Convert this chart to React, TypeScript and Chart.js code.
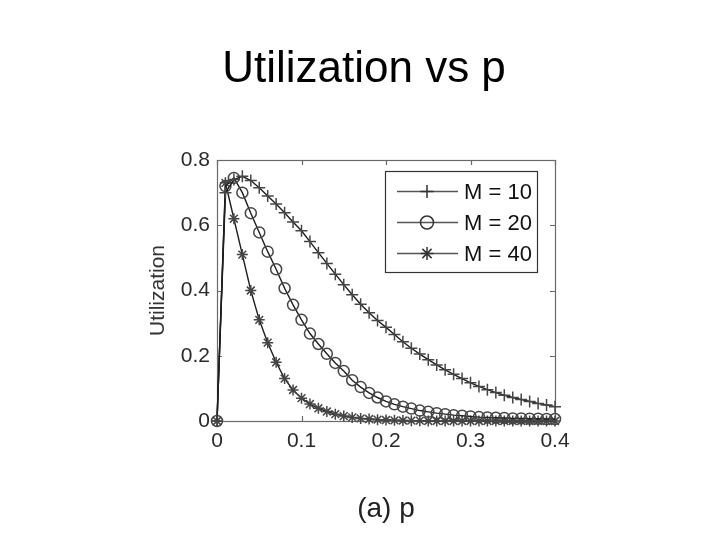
import React, { useEffect, useRef } from 'react';
import { Chart, registerables } from 'chart.js';
import { drawPoint } from 'chart.js/helpers';

Chart.register(...registerables);

const chartTitle = 'Utilization vs p';
const xLabel = '(a) p';
const yLabel = 'Utilization';
const seriesLabels = ['M = 10', 'M = 20', 'M = 40'];
const seriesStyles = ['cross', 'circle', 'star'];

const pValues = [
  0, 0.01, 0.02, 0.03, 0.04, 0.05, 0.06, 0.07, 0.08, 0.09,
  0.1, 0.11, 0.12, 0.13, 0.14, 0.15, 0.16, 0.17, 0.18, 0.19,
  0.2, 0.21, 0.22, 0.23, 0.24, 0.25, 0.26, 0.27, 0.28, 0.29,
  0.3, 0.31, 0.32, 0.33, 0.34, 0.35, 0.36, 0.37, 0.38, 0.39, 0.4,
];

const util10 = [
  0, 0.7, 0.74, 0.75, 0.737, 0.715, 0.69, 0.665, 0.638, 0.61,
  0.583, 0.55, 0.516, 0.483, 0.45, 0.418, 0.387, 0.358, 0.332, 0.308,
  0.287, 0.265, 0.243, 0.223, 0.205, 0.188, 0.172, 0.157, 0.143, 0.13,
  0.117, 0.106, 0.096, 0.087, 0.079, 0.072, 0.066, 0.06, 0.054, 0.049, 0.044,
];

const util20 = [
  0, 0.72, 0.745, 0.7, 0.637, 0.578, 0.519, 0.465, 0.407, 0.356,
  0.31, 0.268, 0.236, 0.206, 0.178, 0.153, 0.125, 0.104, 0.086, 0.072,
  0.06, 0.051, 0.044, 0.038, 0.032, 0.028, 0.024, 0.021, 0.018, 0.016,
  0.014, 0.012, 0.011, 0.01, 0.009, 0.008, 0.008, 0.007, 0.007, 0.006, 0.006,
];

const util40 = [
  0, 0.73, 0.62, 0.51, 0.4, 0.31, 0.24, 0.18, 0.13, 0.095,
  0.07, 0.052, 0.039, 0.029, 0.021, 0.015, 0.011, 0.008, 0.006, 0.004,
  0.003, 0.002, 0.0015, 0.001, 0.001, 0, 0, 0, 0, 0,
  0, 0, 0, 0, 0, 0, 0, 0, 0, 0, 0,
];

const xTicks = [0, 0.1, 0.2, 0.3, 0.4];
const yTicks = [0, 0.2, 0.4, 0.6, 0.8];

const FONT = '"Liberation Sans", Arial, Helvetica, sans-serif';
const LINE_COLOR = '#1e1e1e';
const MARKER_COLOR = '#454545';
const FRAME_COLOR = '#6a6a6a';

const seriesValues = [util10, util20, util40];
const markerRadius = [6, 5.5, 5.5];

const framePlugin = {
  id: 'matlabFrame',
  beforeDatasetsDraw(chart: any) {
    const { ctx, chartArea, scales } = chart;
    const { left, right, top, bottom } = chartArea;
    ctx.save();
    ctx.strokeStyle = FRAME_COLOR;
    ctx.lineWidth = 1.2;
    ctx.strokeRect(left + 0.5, top + 0.5, right - left, bottom - top);
    const tl = 5;
    ctx.beginPath();
    xTicks.forEach((v) => {
      const px = Math.round(scales.x.getPixelForValue(v)) + 0.5;
      ctx.moveTo(px, bottom);
      ctx.lineTo(px, bottom - tl);
      ctx.moveTo(px, top);
      ctx.lineTo(px, top + tl);
    });
    yTicks.forEach((v) => {
      const py = Math.round(scales.y.getPixelForValue(v)) + 0.5;
      ctx.moveTo(left, py);
      ctx.lineTo(left + tl, py);
      ctx.moveTo(right, py);
      ctx.lineTo(right - tl, py);
    });
    ctx.stroke();
    ctx.restore();
  },
};

const titlePlugin = {
  id: 'slideTitle',
  afterDraw(chart: any) {
    const { ctx } = chart;
    ctx.save();
    ctx.fillStyle = '#000';
    ctx.font = `44px ${FONT}`;
    ctx.textAlign = 'center';
    ctx.textBaseline = 'alphabetic';
    ctx.fillText(chartTitle, chart.width / 2 + 4, 82);
    ctx.restore();
  },
};

const legendPlugin = {
  id: 'insideLegend',
  afterDatasetsDraw(chart: any) {
    const { ctx, chartArea } = chart;
    const boxW = 152;
    const boxH = 101;
    const bx = chartArea.right - 18 - boxW;
    const by = chartArea.top + 11;
    ctx.save();
    ctx.fillStyle = '#fff';
    ctx.fillRect(bx, by, boxW, boxH);
    ctx.strokeStyle = '#333';
    ctx.lineWidth = 1.2;
    ctx.strokeRect(bx + 0.5, by + 0.5, boxW, boxH);
    seriesLabels.forEach((label, i) => {
      const y = by + 20.5 + i * 31;
      ctx.strokeStyle = '#555';
      ctx.lineWidth = 1.3;
      ctx.beginPath();
      ctx.moveTo(bx + 12, y);
      ctx.lineTo(bx + 73, y);
      ctx.stroke();
      ctx.strokeStyle = '#333';
      ctx.fillStyle = 'rgba(0,0,0,0)';
      ctx.lineWidth = 1.5;
      drawPoint(ctx, { pointStyle: seriesStyles[i], radius: 6.5, rotation: 0, borderWidth: 1.5 } as any, bx + 42, y);
      ctx.fillStyle = '#111';
      ctx.font = `22px ${FONT}`;
      ctx.textAlign = 'left';
      ctx.textBaseline = 'middle';
      ctx.fillText(label, bx + 79, y + 1);
    });
    ctx.restore();
  },
};

export default function App() {
  const ref = useRef<HTMLCanvasElement>(null);

  useEffect(() => {
    const canvas = ref.current;
    if (!canvas) return;
    const datasets = seriesValues.map((vals, i) => ({
      label: seriesLabels[i],
      data: pValues.map((p, j) => ({ x: p, y: vals[j] })),
      borderColor: LINE_COLOR,
      borderWidth: 1.4,
      backgroundColor: 'rgba(0,0,0,0)',
      pointStyle: seriesStyles[i],
      pointRadius: markerRadius[i],
      pointBorderColor: MARKER_COLOR,
      pointBackgroundColor: 'rgba(0,0,0,0)',
      pointBorderWidth: 1.5,
      tension: 0,
      fill: false,
      clip: false,
    }));

    const chart = new Chart(canvas, {
      type: 'line',
      data: { datasets },
      options: {
        responsive: false,
        animation: false,
        layout: { padding: { top: 160, left: 0, right: 165, bottom: 0 } },
        plugins: {
          legend: { display: false },
          tooltip: { enabled: false },
          title: { display: false },
        },
        scales: {
          x: {
            type: 'linear',
            min: 0,
            max: 0.4,
            afterBuildTicks: (s: any) => {
              s.ticks = xTicks.map((v) => ({ value: v }));
            },
            afterFit: (s: any) => {
              s.height = 119;
            },
            ticks: {
              callback: (v: any) => String(v),
              color: '#2a2a2a',
              font: { size: 21, family: FONT },
              padding: 0,
              maxRotation: 0,
            },
            grid: { display: false },
            border: { display: false },
            title: {
              display: true,
              text: xLabel,
              color: '#222',
              font: { size: 28, family: FONT },
              padding: { top: 0, bottom: 14 },
            },
          },
          y: {
            type: 'linear',
            min: 0,
            max: 0.8,
            afterBuildTicks: (s: any) => {
              s.ticks = yTicks.map((v) => ({ value: v }));
            },
            afterFit: (s: any) => {
              s.width = 217;
            },
            ticks: {
              callback: (v: any) => String(v),
              color: '#2a2a2a',
              font: { size: 21, family: FONT },
              padding: -1,
            },
            grid: { display: false },
            border: { display: false },
            title: {
              display: true,
              text: yLabel,
              color: '#333',
              font: { size: 21, family: FONT },
              padding: { top: 146, bottom: 0 },
            },
          },
        },
      },
      plugins: [framePlugin, legendPlugin, titlePlugin],
    } as any);

    return () => chart.destroy();
  }, []);

  return (
    <div style={{ position: 'absolute', left: 0, top: 0, width: 720, height: 540, background: '#fff' }}>
      <canvas ref={ref} width={720} height={540} style={{ display: 'block', width: 720, height: 540 }} />
    </div>
  );
}
